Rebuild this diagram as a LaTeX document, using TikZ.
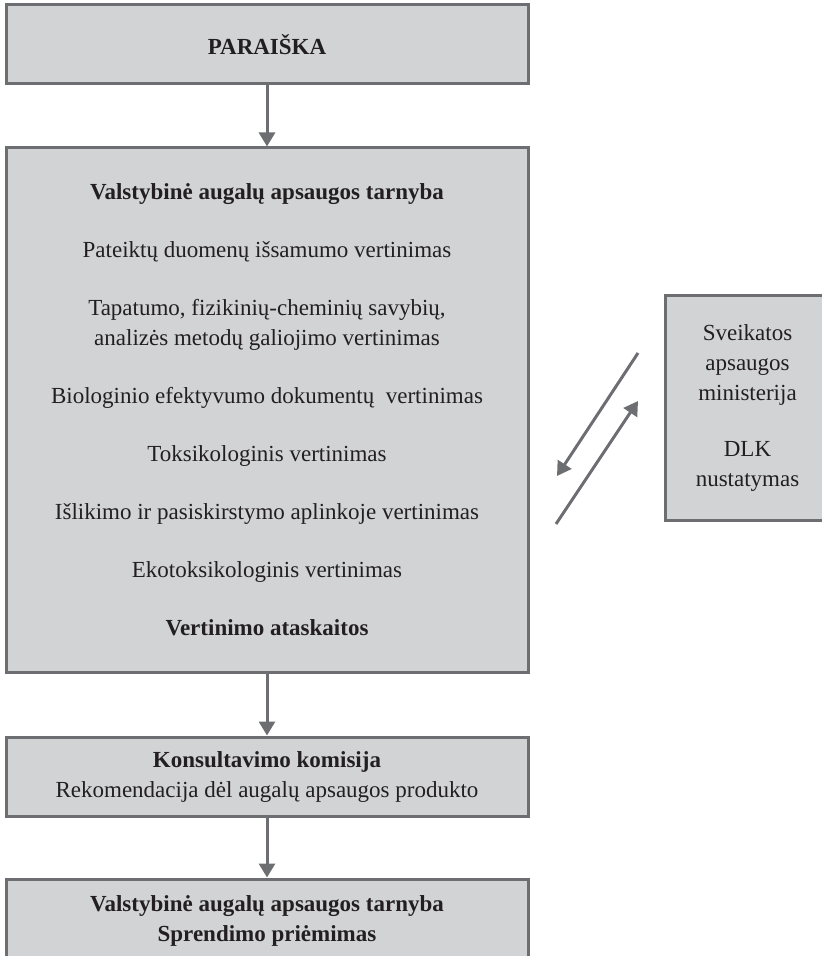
\documentclass[tikz,border=0pt]{standalone}
\usepackage{fontspec}
\setmainfont{Liberation Serif}
\usetikzlibrary{arrows.meta}
\definecolor{boxfill}{RGB}{209,211,212}
\definecolor{boxline}{RGB}{109,110,113}
\definecolor{inktext}{RGB}{35,31,32}
\tikzstyle{box} = [rectangle, minimum width=261pt, minimum height=39.5pt, inner sep=0pt, align=center, text=inktext, draw=boxline, line width=1.5pt, fill=boxfill, font=\fontsize{11.5}{15}\selectfont]
\tikzstyle{arrow} = [draw=boxline, line width=1.5pt, -{Triangle[width=8pt,length=7pt]}]

\begin{document}
\begin{tikzpicture}[x=0.5pt, y=-0.5pt]
\useasboundingbox (0,0) rectangle (822,956);

% Nodes
\node (paraiska) [box] at (267,44.5) {\textbf{PARAIŠKA}};  % Top
\node (vaat) [box, minimum height=262pt] at (267,410) {\textbf{Valstybinė augalų apsaugos tarnyba}\\[14pt]
  Pateiktų duomenų išsamumo vertinimas\\[14pt]
  Tapatumo, fizikinių-cheminių savybių,\\
  analizės metodų galiojimo vertinimas\\[14pt]
  Biologinio efektyvumo dokumentų~ vertinimas\\[14pt]
  Toksikologinis vertinimas\\[14pt]
  Išlikimo ir pasiskirstymo aplinkoje vertinimas\\[14pt]
  Ekotoksikologinis vertinimas\\[14pt]
  \textbf{Vertinimo ataskaitos}};  % Middle
\node (sam) [box, minimum width=82.5pt, minimum height=112pt] at (747.5,408) {Sveikatos\\apsaugos\\ministerija\\[13pt]DLK\\nustatymas};  % Right, runs off the page
\node (komisija) [box] at (267,776.5) {\textbf{Konsultavimo komisija}\\Rekomendacija dėl augalų apsaugos produkto};  % Lower
\node (sprendimas) [box, minimum height=42pt] at (267,921) {\textbf{Valstybinė augalų apsaugos tarnyba}\\\textbf{Sprendimo priėmimas}};  % Bottom, runs off the page

% Free ends between the middle and right boxes
\coordinate (downStart) at (638,353);
\coordinate (downEnd) at (557,476);
\coordinate (upStart) at (556,524);
\coordinate (upEnd) at (638,401);

% Arrows
\draw [arrow] (paraiska) -- (vaat);
\draw [arrow] (vaat) -- (komisija);
\draw [arrow] (komisija) -- (sprendimas);
\draw [arrow] (downStart) -- (downEnd);
\draw [arrow] (upStart) -- (upEnd);

\end{tikzpicture}
\end{document}
